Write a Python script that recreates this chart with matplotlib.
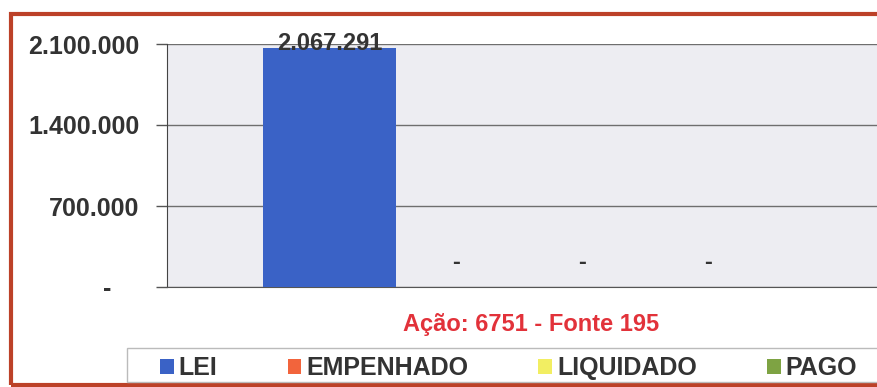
import matplotlib.pyplot as plt
from matplotlib.patches import Patch, Rectangle

plt.rcParams['font.family'] = ['Liberation Sans', 'DejaVu Sans']
plt.rcParams['font.weight'] = 'bold'

# execução orçamentária da ação
series = ['LEI', 'EMPENHADO', 'LIQUIDADO', 'PAGO']
values = [2067291, 0, 0, 0]
colors = ['#3A62C6', '#F2643C', '#F2EE62', '#7EA343']
yticks = [0, 700000, 1400000, 2100000]
title = 'Ação: 6751 - Fonte 195'

W, H = 877, 387
fig = plt.figure(figsize=(W / 100, H / 100), dpi=100)

def fx(px):
    return px / W

def fy(py):
    return 1 - py / H

# moldura externa
fig.patches.append(Rectangle((fx(11), fy(385)), 1.2, fy(14) - fy(385),
                             transform=fig.transFigure, fill=False,
                             edgecolor='#BC4128', linewidth=3))

ax = fig.add_axes([fx(167), fy(287), 1 - fx(167), fy(44) - fy(287)])
ax.set_facecolor('#EDEDF2')

x = list(range(len(series)))
bars = ax.bar(x, values, width=1.05, color=colors, zorder=3)

ax.set_ylim(0, 2100000)
ax.set_xlim(-1.29, 4.34)
ax.set_yticks(yticks)

def fmt(v):
    if v == 0:
        return '-    '
    return f'{v:,.0f}'.replace(',', '.')

ax.set_yticklabels([fmt(v) for v in yticks], fontsize=18, color='#333333')
ax.tick_params(axis='y', direction='out', length=8, width=1, color='#555555', pad=12)
ax.tick_params(axis='x', bottom=False, labelbottom=False)
ax.yaxis.grid(True, color='#6E6E6E', linewidth=1, zorder=1)
for s in ['top', 'right']:
    ax.spines[s].set_visible(False)
ax.spines['left'].set_color('#444444')
ax.spines['bottom'].set_color('#555555')

# rótulos de dados
for xi, v in zip(x, values):
    if v > 0.9 * 2100000:
        ax.text(xi, 2100000, fmt(v), ha='center', va='center', fontsize=17,
                color='#333333', zorder=4, clip_on=False)
    else:
        ax.annotate('-', xy=(xi, v), xytext=(0, 18), textcoords='offset points',
                    ha='center', va='center', fontsize=17, color='#333333')

fig.text(fx(531), fy(324), title, ha='center', va='center', fontsize=17,
         color='#E2323A', fontweight='bold')

# caixa da legenda
fig.patches.append(Rectangle((fx(127), fy(382)), 1.2, fy(348) - fy(382),
                             transform=fig.transFigure, facecolor='white',
                             edgecolor='#BBBBBB', linewidth=1))
handles = [Patch(facecolor=c, label=s) for c, s in zip(colors, series)]
fig.legend(handles=handles, loc='center left', bbox_to_anchor=(fx(160), fy(368)),
           ncol=4, frameon=False, fontsize=18, handlelength=0.55, handleheight=0.55,
           handletextpad=0.2, columnspacing=2.8, borderaxespad=0, borderpad=0,
           labelcolor='#333333')

fig.savefig('out.png', dpi=100)
